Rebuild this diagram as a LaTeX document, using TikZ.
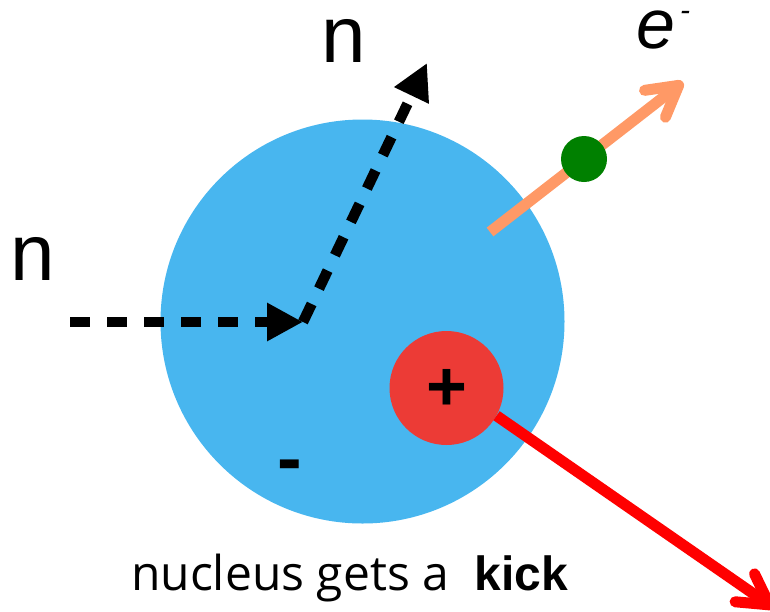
\documentclass[tikz,border=0pt]{standalone}
\usepackage{fontspec}
\setmainfont{Liberation Sans}
\newfontfamily\opensans{Open Sans}
\usetikzlibrary{arrows.meta}
\definecolor{nucblue}{RGB}{72,182,239}
\definecolor{protonred}{RGB}{236,59,54}
\definecolor{kickred}{RGB}{255,0,0}
\definecolor{eorange}{RGB}{255,153,102}
\definecolor{egreen}{RGB}{0,128,0}
\tikzset{
  blob/.style={circle, inner sep=0pt, draw=none},
  nline/.style={line width=10.5pt, dash pattern=on 20pt off 17pt, line cap=butt,
    -{Triangle[length=36pt,width=36pt]}},
  barbline/.style={line width=11pt, line cap=butt,
    -{Straight Barb[length=30pt,width=34pt,line cap=round,line join=round]}},
  lbl/.style={inner sep=0pt, anchor=base west},
}
\begin{document}
\begin{tikzpicture}[x=1pt,y=-1pt]
\useasboundingbox (0,0) rectangle (770,611);
% nucleus
\node[blob, fill=nucblue, minimum size=404pt] (nuc) at (362.5,321.5) {};
\node[blob, fill=protonred, minimum size=114pt] (pos) at (446.5,388) {};
\node[inner sep=0pt, anchor=base, font=\fontsize{70}{70}\selectfont\bfseries] (plus) at (447,410) {+};
\node[inner sep=0pt, anchor=base, font=\fontsize{74}{74}\selectfont\bfseries] (minus) at (290,483) {-};
% neutron path
\coordinate (nin) at (70,322);
\coordinate (kink) at (303,322);
\coordinate (nout) at (427,63);
\draw[nline] (nin) -- (kink);
\draw[nline] (kink) -- (nout);
% electron
\coordinate (e0) at (490,232);
\coordinate (e1) at (683,82);
\draw[barbline, eorange] (e0) -- (e1);
\node[blob, fill=egreen, minimum size=46pt] (edot) at (584,159) {};
% kick
\coordinate (k1) at (774,608);
\draw[barbline, kickred] (pos.-29) -- (k1);
% labels
\node[lbl, font=\fontsize{80}{80}\selectfont] (nlabin) at (10,280) {n};
\node[lbl, font=\fontsize{80}{80}\selectfont] (nlabout) at (321,62) {n};
\node[lbl, font=\fontsize{70}{70}\selectfont\itshape] (elab) at (636,48) {e\hspace{5pt}\raisebox{28pt}{\fontsize{30}{30}\selectfont -}};
\node[lbl, font=\fontsize{48}{48}\selectfont\opensans] (cap1) at (131,590) {nucleus gets a};
\node[lbl, font=\fontsize{48}{48}\selectfont\bfseries] (cap2) at (474.5,590) {kick};
\end{tikzpicture}
\end{document}
